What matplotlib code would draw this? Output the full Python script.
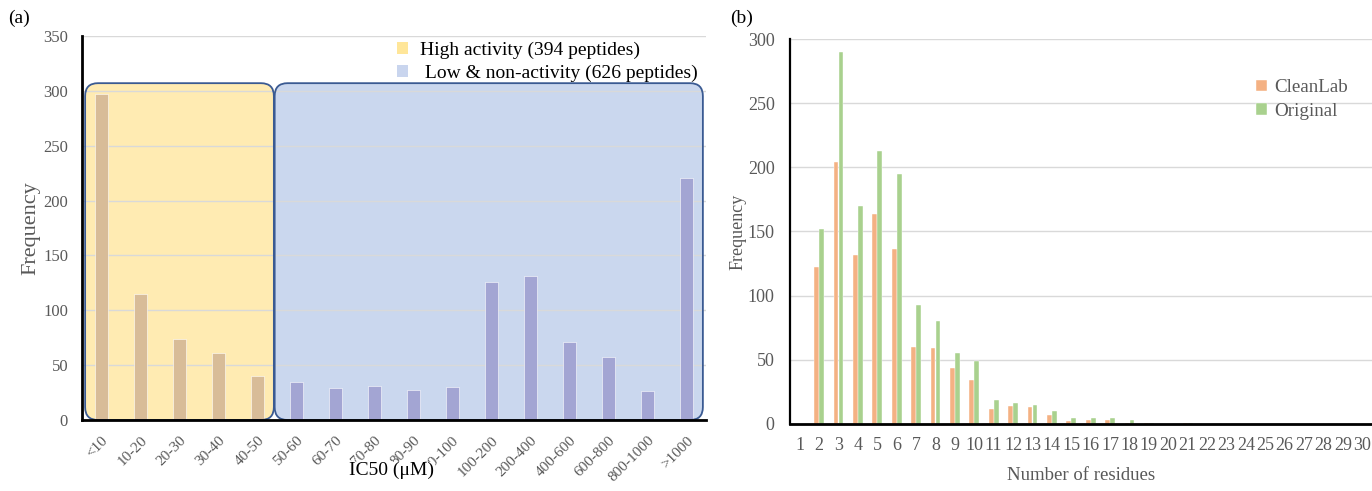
import matplotlib.pyplot as plt
import numpy as np
from matplotlib.patches import FancyBboxPatch, Patch

plt.rcParams['font.family'] = ['Liberation Serif', 'DejaVu Serif']

# (a) IC50 distribution
ic50_labels = ['<10', '10-20', '20-30', '30-40', '40-50', '50-60', '60-70', '70-80',
               '80-90', '90-100', '100-200', '200-400', '400-600', '600-800',
               '800-1000', '>1000']
ic50_counts = [297, 115, 74, 61, 40, 35, 29, 31, 27, 30, 126, 131, 71, 57, 26, 221]
n_high = 5  # first five bins are "high activity"

# (b) peptide length distribution
residues = list(range(1, 31))
cleanlab = [0, 122, 204, 132, 164, 136, 60, 59, 44, 34, 12, 14, 13, 7, 2, 3, 3, 1, 1, 0,
            1, 0, 0, 0, 0, 0, 0, 0, 0, 0]
original = [0, 152, 290, 170, 213, 195, 93, 80, 55, 49, 19, 16, 15, 10, 5, 5, 5, 3, 1, 0,
            1, 0, 0, 0, 0, 0, 0, 0, 0, 0]

gray = '#595959'
grid_c = '#D9D9D9'

fig = plt.figure(figsize=(13.72, 4.91), dpi=100)

# ---------------- panel (a)
ax1 = fig.add_axes([82 / 1372, 1 - 420 / 491, 624 / 1372, 384 / 491])
x = np.arange(len(ic50_labels))
ax1.set_xlim(-0.5, len(ic50_labels) - 0.5)
ax1.set_ylim(0, 350)

# rounded background boxes (x: 39 px/unit, y: 384/350 px/unit)
asp = (624 / 16) / (384 / 350)
box_top = 307
boxes = [(-0.42, n_high - 0.58, '#FFD966', 0.5),
         (n_high - 0.56, len(ic50_labels) - 0.58, '#8FAADC', 0.47)]
for x0, x1, fc, a in boxes:
    ax1.add_patch(FancyBboxPatch((x0, 0), x1 - x0, box_top,
                                 boxstyle='round,pad=0,rounding_size=0.33', mutation_aspect=asp,
                                 facecolor=fc, alpha=a, edgecolor='none', zorder=0.3))
    ax1.add_patch(FancyBboxPatch((x0, 0), x1 - x0, box_top,
                                 boxstyle='round,pad=0,rounding_size=0.33', mutation_aspect=asp,
                                 facecolor='none', edgecolor='#3A5A92', linewidth=1.3, zorder=3))

cols = ['#D8BC98'] * n_high + ['#A3A5D3'] * (len(ic50_labels) - n_high)
ax1.bar(x, ic50_counts, width=0.31, color=cols, edgecolor='white', linewidth=0.4, zorder=2)

ax1.set_yticks(np.arange(0, 351, 50))
ax1.set_axisbelow(True)
ax1.yaxis.grid(True, color=grid_c, linewidth=1)
ax1.set_xticks(x)
ax1.set_xticklabels(ic50_labels, rotation=45, ha='right', va='top', rotation_mode='anchor')
ax1.tick_params(axis='y', length=0, colors=gray, labelsize=12, pad=10)
ax1.tick_params(axis='x', length=0, colors=gray, labelsize=11, pad=10)
for s in ('top', 'right'):
    ax1.spines[s].set_visible(False)
for s in ('left', 'bottom'):
    ax1.spines[s].set_linewidth(2)
    ax1.spines[s].set_zorder(4)
ax1.set_ylabel('Frequency', color=gray, fontsize=16)
ax1.yaxis.set_label_coords(-(82 - 40) / 624, 0.5)
# white box behind the title hides the tick labels it overlaps, as in the original
ax1.set_xlabel('IC50 (μM)', fontsize=14,
               bbox=dict(facecolor='white', edgecolor='none', pad=0.3))
ax1.xaxis.set_label_coords((392 - 82) / 624, -(462 - 420) / 384)

ax1.legend(handles=[Patch(facecolor='#FFE699', edgecolor='none'),
                    Patch(facecolor='#C9D5EE', edgecolor='none')],
           labels=['High activity (394 peptides)', ' Low & non-activity (626 peptides)'],
           loc='upper left', bbox_to_anchor=((380 - 82) / 624, 1.03), frameon=False,
           fontsize=14, handlelength=0.55, handleheight=0.55, handletextpad=0.6,
           labelspacing=0.28)

fig.text(8 / 1372, 1 - 18 / 491, '(a)', fontsize=14, va='center', ha='left')

# ---------------- panel (b)
ax2 = fig.add_axes([790 / 1372, 1 - 424 / 491, 582 / 1372, 385 / 491])
r = np.array(residues)
ax2.bar(r - 0.13, cleanlab, width=0.24, color='#F4B183', edgecolor='white', linewidth=0.3,
        label='CleanLab', zorder=2)
ax2.bar(r + 0.13, original, width=0.24, color='#A9D18E', edgecolor='white', linewidth=0.3,
        label='Original', zorder=2)
ax2.set_xlim(0.5, 30.5)
ax2.set_ylim(0, 300)
ax2.set_xticks(r)
ax2.set_yticks(np.arange(0, 301, 50))
ax2.set_axisbelow(True)
ax2.yaxis.grid(True, color=grid_c, linewidth=1)
ax2.tick_params(axis='y', length=0, colors=gray, labelsize=13, pad=11)
ax2.tick_params(axis='x', length=0, colors=gray, labelsize=13, pad=9)
for s in ('top', 'right'):
    ax2.spines[s].set_visible(False)
ax2.spines['left'].set_linewidth(1.6)
ax2.spines['bottom'].set_linewidth(2)
ax2.set_ylabel('Frequency', color=gray, fontsize=13)
ax2.yaxis.set_label_coords(-(790 - 747) / 582, 0.5)
ax2.set_xlabel('Number of residues', color=gray, fontsize=13.5)
ax2.xaxis.set_label_coords((1081 - 790) / 582, -(467 - 424) / 385)
ax2.legend(loc='upper left', bbox_to_anchor=((1239 - 790) / 582, 0.94), frameon=False,
           fontsize=13.7, handlelength=0.55, handleheight=0.55, handletextpad=0.4,
           labelspacing=0.35, labelcolor=gray)

fig.text(730 / 1372, 1 - 18 / 491, '(b)', fontsize=14, va='center', ha='left')

fig.savefig('out.png', dpi=100)
